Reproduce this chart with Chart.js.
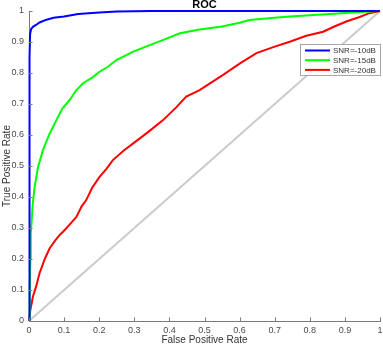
<!DOCTYPE html>
<html>
<head>
<meta charset="utf-8">
<script src="https://cdn.jsdelivr.net/npm/chart.js@4"></script>
<style>
  html, body { margin: 0; padding: 0; background: #fff; }
  #wrap { width: 383px; height: 345px; }
</style>
</head>
<body>
<div id="wrap"><canvas id="roc"></canvas></div>
<script>
// ── data (false positive rate / true positive rate) ──
const TICKS = [0, 0.1, 0.2, 0.3, 0.4, 0.5, 0.6, 0.7, 0.8, 0.9, 1];
const LABELS = ['SNR=-10dB', 'SNR=-15dB', 'SNR=-20dB'];
const COLORS = ['#0000ff', '#00ff00', '#ff0000'];

const FPR_10 = [0, 0.001, 0.002, 0.003, 0.006, 0.012, 0.02, 0.03, 0.05, 0.07, 0.1, 0.14, 0.2, 0.25, 0.35, 1];
const TPR_10 = [0, 0.5, 0.85, 0.925, 0.942, 0.95, 0.955, 0.963, 0.972, 0.978, 0.982, 0.99, 0.995, 0.998, 1, 1];

const FPR_15 = [0, 0.002, 0.004, 0.005, 0.008, 0.01, 0.016, 0.026, 0.04, 0.05, 0.059, 0.078, 0.095, 0.116, 0.135, 0.154,
  0.18, 0.201, 0.225, 0.249, 0.297, 0.344, 0.39, 0.43, 0.486, 0.55, 0.6, 0.628, 0.7, 0.743, 0.8, 0.857, 0.933, 1];
const TPR_15 = [0, 0.1, 0.2, 0.28, 0.33, 0.37, 0.433, 0.498, 0.552, 0.58, 0.605, 0.648, 0.685, 0.713, 0.745, 0.767,
  0.785, 0.804, 0.82, 0.842, 0.869, 0.89, 0.91, 0.928, 0.94, 0.95, 0.962, 0.971, 0.978, 0.982, 0.986, 0.99, 0.996, 1];

const FPR_20 = [0, 0.003, 0.011, 0.02, 0.03, 0.045, 0.059, 0.075, 0.087, 0.097, 0.115, 0.135, 0.15, 0.163, 0.18, 0.201,
  0.22, 0.239, 0.27, 0.297, 0.34, 0.382, 0.42, 0.448, 0.486, 0.52, 0.553, 0.6, 0.648, 0.7, 0.743, 0.79, 0.838, 0.87,
  0.904, 0.94, 0.97, 1];
const TPR_20 = [0, 0.03, 0.078, 0.11, 0.154, 0.2, 0.235, 0.26, 0.277, 0.288, 0.31, 0.336, 0.37, 0.39, 0.43, 0.465,
  0.49, 0.519, 0.55, 0.573, 0.61, 0.648, 0.69, 0.724, 0.745, 0.77, 0.794, 0.83, 0.864, 0.885, 0.901, 0.92, 0.933, 0.95,
  0.966, 0.98, 0.993, 1];

const CHANCE_X = [0, 1];
const CHANCE_Y = [0, 1];

const toXY = (xs, ys) => xs.map((x, i) => ({ x: x, y: ys[i] }));
const fmt = v => String(+v.toFixed(1));

const FONT = 'Liberation Sans, Arial, sans-serif';
const AXIS_COLOR = '#7a7a7a';
const TEXT_COLOR = '#4a4a4a';

// ── inward ticks, title and the boxed legend (MATLAB look) ──────────────────
const matlabLook = {
  id: 'matlabLook',
  afterDraw(chart) {
    const c = chart.ctx;
    const area = chart.chartArea;
    const xs = chart.scales.x, ys = chart.scales.y;
    c.save();
    c.strokeStyle = AXIS_COLOR;
    c.lineWidth = 1;
    c.beginPath();
    TICKS.forEach(t => {
      const px = Math.round(xs.getPixelForValue(t)) + 0.5;
      c.moveTo(px, area.bottom);
      c.lineTo(px, area.bottom - 3.5);
      const py = Math.round(ys.getPixelForValue(t)) + 0.5;
      c.moveTo(area.left, py);
      c.lineTo(area.left + 3.5, py);
    });
    c.stroke();

    // title
    c.fillStyle = '#000';
    c.font = 'bold 11px ' + FONT;
    c.textAlign = 'center';
    c.textBaseline = 'middle';
    c.fillText('ROC', (area.left + area.right) / 2, 5);

    // legend box in the upper right of the axes
    const bw = 81, bh = 32;
    const bx = area.right - bw + 1, by = area.top + 33;
    c.fillStyle = '#fff';
    c.fillRect(bx, by, bw, bh);
    c.strokeStyle = '#a8a8a8';
    c.strokeRect(bx + 0.5, by + 0.5, bw - 1, bh - 1);
    c.font = '8px ' + FONT;
    c.textAlign = 'left';
    LABELS.forEach((lab, i) => {
      const ly = by + 6.5 + i * 9.7;
      c.strokeStyle = COLORS[i];
      c.lineWidth = 2;
      c.beginPath();
      c.moveTo(bx + 5, ly);
      c.lineTo(bx + 30, ly);
      c.stroke();
      c.fillStyle = '#333';
      c.fillText(lab, bx + 33, ly + 0.5);
    });
    c.restore();
  }
};

const line = (label, data, color, order) => ({
  label: label,
  data: data,
  borderColor: color,
  backgroundColor: color,
  borderWidth: 2,
  pointRadius: 0,
  showLine: true,
  tension: 0,
  clip: false,
  order: order
});

new Chart(document.getElementById('roc'), {
  type: 'scatter',
  data: {
    datasets: [
      line(LABELS[0], toXY(FPR_10, TPR_10), COLORS[0], 1),
      line(LABELS[1], toXY(FPR_15, TPR_15), COLORS[1], 2),
      line(LABELS[2], toXY(FPR_20, TPR_20), COLORS[2], 3),
      line('chance', toXY(CHANCE_X, CHANCE_Y), '#cbcbcb', 10)
    ]
  },
  options: {
    responsive: true,
    maintainAspectRatio: false,
    animation: false,
    layout: { padding: { left: 0, top: 11, right: 3, bottom: 0 } },
    plugins: {
      legend: { display: false },
      title: { display: false },
      tooltip: { enabled: false }
    },
    scales: {
      x: {
        type: 'linear',
        min: 0, max: 1,
        afterFit: s => { s.height = 24; s.paddingLeft = 0; s.paddingRight = 0; },
        afterBuildTicks: s => { s.ticks = TICKS.map(v => ({ value: v })); },
        grid: { drawOnChartArea: false, drawTicks: false },
        border: { color: AXIS_COLOR, width: 1 },
        ticks: { color: TEXT_COLOR, font: { family: FONT, size: 9 }, padding: 4, maxRotation: 0, callback: fmt },
        title: {
          display: true, text: 'False Positive Rate', color: '#333',
          font: { family: FONT, size: 10 }, padding: { top: 0, bottom: -1 }
        }
      },
      y: {
        type: 'linear',
        min: 0, max: 1,
        afterFit: s => { s.width = 29; s.paddingTop = 0; s.paddingBottom = 0; },
        afterBuildTicks: s => { s.ticks = TICKS.map(v => ({ value: v })); },
        grid: { drawOnChartArea: false, drawTicks: false },
        border: { color: AXIS_COLOR, width: 1 },
        ticks: { color: TEXT_COLOR, font: { family: FONT, size: 9 }, padding: 5, callback: fmt },
        title: {
          display: true, text: 'True Positive Rate', color: '#333',
          font: { family: FONT, size: 10 }, padding: { top: 1, bottom: 0 }
        }
      }
    }
  },
  plugins: [matlabLook]
});
</script>
</body>
</html>
